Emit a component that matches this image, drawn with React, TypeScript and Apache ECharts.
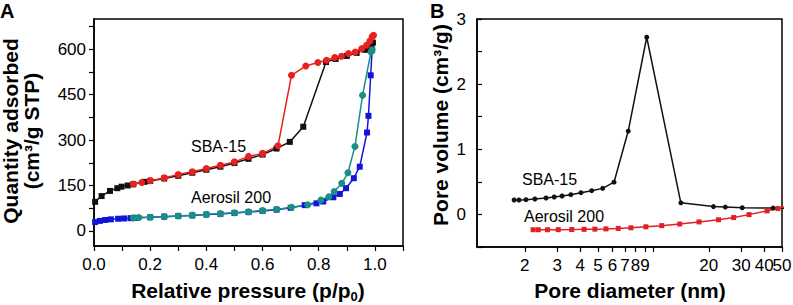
import React, { useEffect, useRef } from 'react';
import * as echarts from 'echarts';

// Panel A: N2 isotherms
const sbaAdsP = [0.004, 0.027, 0.057, 0.083, 0.098, 0.12, 0.14, 0.18, 0.2, 0.25, 0.3, 0.35, 0.4, 0.45, 0.5, 0.55, 0.6, 0.65, 0.697, 0.745, 0.826, 0.86, 0.9, 0.935, 0.965, 0.976, 0.988, 0.993];
const sbaAdsV = [96, 115, 132, 141, 146, 150, 154, 162, 165, 173, 182, 192, 202, 212, 224, 238, 252, 272, 294, 344, 558, 568, 578, 588, 598, 605, 613, 622];
const sbaDesP = [0.995, 0.99, 0.982, 0.97, 0.953, 0.93, 0.906, 0.881, 0.857, 0.828, 0.797, 0.754, 0.703, 0.655, 0.6, 0.55, 0.5, 0.45, 0.4, 0.35, 0.3, 0.25, 0.2, 0.17, 0.14];
const sbaDesV = [646, 641, 627, 613, 602, 591, 586, 577, 573, 564, 556, 545, 514, 281, 256, 246, 228, 217, 206, 195, 186, 175, 166, 160, 155];
const aeroAdsP = [0.004, 0.021, 0.04, 0.06, 0.086, 0.107, 0.13, 0.15, 0.2, 0.25, 0.3, 0.35, 0.4, 0.45, 0.5, 0.55, 0.6, 0.65, 0.7, 0.75, 0.792, 0.816, 0.852, 0.875, 0.897, 0.925, 0.946, 0.972, 0.977, 0.985, 0.99];
const aeroAdsV = [29, 33, 36, 38, 40, 41, 42, 43, 45, 47, 49, 51, 54, 56, 59, 62, 66, 70, 76, 85, 91, 97, 111, 122, 141, 174, 212, 325, 380, 514, 598];
const aeroDesP = [0.99, 0.986, 0.956, 0.929, 0.904, 0.882, 0.855, 0.836, 0.808, 0.761, 0.703, 0.65, 0.6, 0.55, 0.5, 0.45, 0.4, 0.35, 0.3, 0.25, 0.2, 0.16, 0.14];
const aeroDesV = [598, 591, 448, 279, 192, 157, 130, 113, 102, 86, 78, 71, 67, 63, 60, 57, 54, 52, 49, 47, 45, 44, 43];
const aYTicks = [0, 75, 150, 225, 300, 375, 450, 525, 600, 675];
const aYLabels = [0, 150, 300, 450, 600];

// Panel B: pore size distribution
const sbaDiam = [1.75, 1.86, 2.03, 2.27, 2.61, 2.89, 3.19, 3.56, 4.04, 4.62, 5.3, 6.11, 7.3, 9.2, 14.1, 21.2, 24.6, 30.4, 44.7, 55];
const sbaVol = [0.222, 0.222, 0.226, 0.237, 0.252, 0.268, 0.283, 0.303, 0.334, 0.365, 0.4, 0.495, 1.28, 2.72, 0.178, 0.12, 0.113, 0.103, 0.098, 0.095];
const aeroDiam = [2.22, 2.37, 2.66, 3.04, 3.6, 4.2, 4.81, 5.52, 6.44, 7.55, 9.1, 11.1, 13.9, 17.7, 22.6, 27.3, 33.1, 41.5, 47.5, 52];
const aeroVol = [-0.235, -0.235, -0.235, -0.234, -0.232, -0.229, -0.226, -0.222, -0.215, -0.205, -0.19, -0.172, -0.148, -0.115, -0.082, -0.048, -0.003, 0.055, 0.09, 0.118];
const bXTicks = [2, 3, 4, 5, 6, 7, 8, 9, 10, 20, 30, 40, 50];
const bXLabels = [2, 3, 4, 5, 6, 7, 8, 9, 20, 30, 40];
const bXEndLabels = [50];

const FONT = '"Liberation Sans", Arial, Helvetica, sans-serif';

const zip = (xs: number[], ys: number[]) => xs.map((x, i) => [x, ys[i]]);
const zipLog = (xs: number[], ys: number[]) => xs.map((x, i) => [Math.log10(x), ys[i]]);

export default function App() {
  const ref = useRef<HTMLDivElement>(null);
  useEffect(() => {
    if (!ref.current) return;
    const chart = echarts.init(ref.current, undefined, { renderer: 'svg' });
    const axisLine = { show: true, onZero: false, lineStyle: { color: '#000', width: 1.5 } };
    const labelStyle = { color: '#000', fontSize: 17, fontFamily: FONT, hideOverlap: false, showMinLabel: true, showMaxLabel: true };
    const lineSeries = (name: string, data: number[][], color: string, symbol: string, size: number, gi: number) => ({
      name,
      type: 'line',
      xAxisIndex: gi,
      yAxisIndex: gi,
      data,
      symbol,
      symbolSize: size,
      showAllSymbol: true,
      clip: true,
      lineStyle: { color, width: 1.5 },
      itemStyle: { color, borderWidth: 0 },
      emphasis: { disabled: true },
    });
    const bMin = Math.log10(1.1);
    const bMax = Math.log10(50);
    const TITLE = `bold 21px ${FONT}`;
    const option: any = {
      animation: false,
      textStyle: { fontFamily: FONT },
      grid: [
        { left: 94, top: 19, width: 309, height: 227, show: true, borderColor: '#000', borderWidth: 1.5, outerBoundsMode: 'none' },
        { left: 477, top: 19, width: 305, height: 228, show: true, borderColor: '#000', borderWidth: 1.5, outerBoundsMode: 'none' },
      ],
      xAxis: [
        {
          gridIndex: 0, type: 'value', min: 0, max: 1.1, interval: 0.1,
          axisLine, splitLine: { show: false },
          axisTick: { show: true, inside: false, length: 5, lineStyle: { color: '#000', width: 1.2 } },
          axisLabel: {
            ...labelStyle, margin: 10,
            formatter: (v: number) => (Math.round(v * 10) % 2 === 0 && v < 1.05 ? v.toFixed(1) : ''),
          },
        },
        {
          gridIndex: 1, type: 'value', min: bMin, max: bMax,
          axisLine, splitLine: { show: false },
          axisTick: { show: true, inside: false, length: 5, customValues: bXTicks.map(Math.log10), lineStyle: { color: '#000', width: 1.2 } },
          axisLabel: {
            ...labelStyle, margin: 10,
            customValues: bXLabels.map(Math.log10),
            formatter: (v: number) => String(Math.round(Math.pow(10, v))),
          },
        },
        {
          gridIndex: 1, type: 'value', min: bMin, max: bMax, position: 'bottom',
          axisLine: { show: false }, axisTick: { show: false }, splitLine: { show: false },
          axisLabel: {
            ...labelStyle, margin: 10,
            customValues: bXEndLabels.map(Math.log10),
            formatter: (v: number) => String(Math.round(Math.pow(10, v))),
          },
        },
      ],
      yAxis: [
        {
          gridIndex: 0, type: 'value', min: -50, max: 700,
          axisLine, splitLine: { show: false },
          axisTick: { show: true, inside: false, length: 5, customValues: aYTicks, lineStyle: { color: '#000', width: 1.2 } },
          axisLabel: { ...labelStyle, margin: 8, customValues: aYLabels },
        },
        {
          gridIndex: 1, type: 'value', min: -0.5, max: 3, interval: 0.5,
          axisLine, splitLine: { show: false },
          axisTick: { show: true, inside: true, length: 5, lineStyle: { color: '#000', width: 1.2 } },
          axisLabel: {
            ...labelStyle, margin: 11,
            formatter: (v: number) => (Math.abs(v - Math.round(v)) < 1e-6 && v >= 0 ? String(Math.round(v)) : ''),
          },
        },
      ],
      series: [
        lineSeries('SBA-15 adsorption', zip(sbaAdsP, sbaAdsV), '#111111', 'rect', 6, 0),
        lineSeries('SBA-15 desorption', zip(sbaDesP, sbaDesV), '#e8201f', 'circle', 7, 0),
        lineSeries('Aerosil 200 adsorption', zip(aeroAdsP, aeroAdsV), '#1414d8', 'rect', 6, 0),
        lineSeries('Aerosil 200 desorption', zip(aeroDesP, aeroDesV), '#1a8f86', 'circle', 7, 0),
        lineSeries('SBA-15 PSD', zipLog(sbaDiam, sbaVol), '#111111', 'circle', 5, 1),
        lineSeries('Aerosil 200 PSD', zipLog(aeroDiam, aeroVol), '#e02025', 'rect', 5, 1),
      ],
      graphic: [
        { type: 'text', x: 0, y: 11, style: { text: 'A', font: `bold 20px ${FONT}`, fill: '#000', textAlign: 'left', textVerticalAlign: 'middle' } },
        { type: 'text', x: 430, y: 11, style: { text: 'B', font: `bold 20px ${FONT}`, fill: '#000', textAlign: 'left', textVerticalAlign: 'middle' } },
        {
          type: 'text', x: 21, y: 131, rotation: Math.PI / 2,
          style: { text: 'Quantity adsorbed\n(cm³/g STP)', font: TITLE, lineHeight: 21, fill: '#000', textAlign: 'center', textVerticalAlign: 'middle' },
        },
        {
          type: 'text', x: 440, y: 125, rotation: Math.PI / 2,
          style: { text: 'Pore volume (cm³/g)', font: TITLE, fill: '#000', textAlign: 'center', textVerticalAlign: 'middle' },
        },
        {
          type: 'text', x: 248, y: 290,
          style: {
            text: 'Relative pressure (p/p{sub|0})', font: TITLE, fill: '#000', textAlign: 'center', textVerticalAlign: 'middle',
            lineHeight: 25,
            rich: { sub: { font: `bold 13px ${FONT}`, fontWeight: 'bold', fontSize: 13, fontFamily: FONT, verticalAlign: 'bottom', lineHeight: 14, fill: '#000' } },
          },
        },
        {
          type: 'text', x: 630, y: 290,
          style: { text: 'Pore diameter (nm)', font: TITLE, fill: '#000', textAlign: 'center', textVerticalAlign: 'middle' },
        },
        { type: 'text', x: 191, y: 146, style: { text: 'SBA-15', font: `16px ${FONT}`, fill: '#000', textAlign: 'left', textVerticalAlign: 'middle' } },
        { type: 'text', x: 191, y: 197, style: { text: 'Aerosil 200', font: `16px ${FONT}`, fill: '#000', textAlign: 'left', textVerticalAlign: 'middle' } },
        { type: 'text', x: 522, y: 179, style: { text: 'SBA-15', font: `16px ${FONT}`, fill: '#000', textAlign: 'left', textVerticalAlign: 'middle' } },
        { type: 'text', x: 524, y: 216, style: { text: 'Aerosil 200', font: `16px ${FONT}`, fill: '#000', textAlign: 'left', textVerticalAlign: 'middle' } },
      ],
    };
    chart.setOption(option);
    return () => chart.dispose();
  }, []);
  return (
    <div
      ref={ref}
      style={{ position: 'absolute', left: 0, top: 0, width: 793, height: 305, background: '#fff' }}
    />
  );
}
